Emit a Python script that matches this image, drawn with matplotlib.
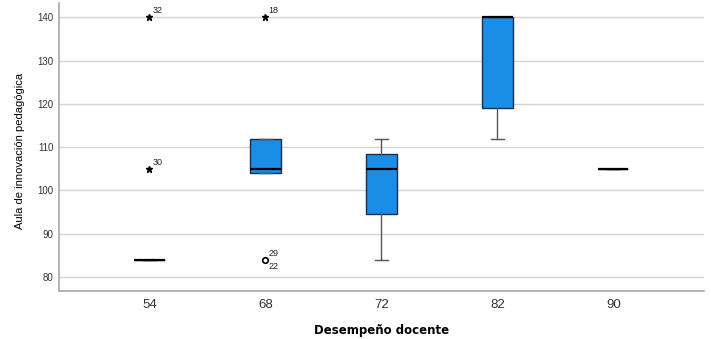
import matplotlib
matplotlib.use('Agg')
import matplotlib.pyplot as plt

plt.rcParams['font.family'] = ['Liberation Sans', 'DejaVu Sans']

# boxplot summary per group
groups = ['54', '68', '72', '82', '90']
whislo = [84, 104, 84, 112, 105]
q1 = [84, 104, 94.5, 119, 105]
med = [84, 105, 105, 140, 105]
q3 = [84, 112, 108.5, 140, 105]
whishi = [84, 112, 112, 140, 105]
# outliers: (group index, value, label, marker)
out_grp = [0, 0, 1, 1]
out_val = [140, 105, 140, 84]
out_lab = ['32', '30', '18', '29']
out_mrk = ['*', '*', '*', 'o']

box_color = '#1a8de6'
edge_color = '#1b2f4a'

fig = plt.figure(figsize=(7.11, 3.39), dpi=100)
ax = fig.add_axes([0.083, 0.142, 0.907, 0.849])

stats = []
for i, g in enumerate(groups):
    stats.append(dict(label=g, whislo=whislo[i], q1=q1[i], med=med[i],
                      q3=q3[i], whishi=whishi[i], fliers=[]))

ax.bxp(stats, positions=range(len(groups)), widths=0.26, patch_artist=True,
       showfliers=False, manage_ticks=False,
       boxprops=dict(facecolor=box_color, edgecolor=edge_color, linewidth=1),
       medianprops=dict(color='black', linewidth=1.6),
       whiskerprops=dict(color='#555555', linewidth=1),
       capprops=dict(color='#555555', linewidth=1),
       capwidths=0.11)

for g, v, lab, m in zip(out_grp, out_val, out_lab, out_mrk):
    if m == '*':
        ax.plot(g, v, marker='*', color='black', markersize=4.5, linestyle='none')
    else:
        ax.plot(g, v, marker='o', markerfacecolor='white', markeredgecolor='black',
                markersize=4, markeredgewidth=1.2, linestyle='none')
    ax.annotate(lab, (g, v), xytext=(2, 3), textcoords='offset points',
                fontsize=6.5, color='#222222')
# second label on the 68 circle outlier
ax.annotate('22', (1, 84), xytext=(2, -7), textcoords='offset points',
            fontsize=6.5, color='#222222')

ax.set_xlim(-0.78, 4.78)
ax.set_ylim(76.8, 143.3)
ax.set_yticks([80, 90, 100, 110, 120, 130, 140])
ax.set_xticks(range(len(groups)))
ax.set_xticklabels(groups, fontsize=9.5, color='#333333')
ax.tick_params(axis='y', labelsize=7, colors='#333333', length=0, pad=4)
ax.tick_params(axis='x', length=0, pad=6)
ax.yaxis.grid(True, color='#d4d4d4', linewidth=1)
ax.set_axisbelow(True)
for s in ['top', 'right']:
    ax.spines[s].set_visible(False)
for s in ['left', 'bottom']:
    ax.spines[s].set_color('#a8a8a8')
    ax.spines[s].set_linewidth(1.2)

ax.set_xlabel('Desempeño docente', fontsize=8.5, fontweight='bold', labelpad=9,
              family=['DejaVu Sans'])
ax.set_ylabel('Aula de innovación pedagógica', fontsize=8, labelpad=10,
              family=['Liberation Sans Narrow', 'Liberation Sans', 'DejaVu Sans'])
ax.yaxis.set_label_coords(-0.052, 0.486)

fig.savefig('out.png', dpi=100)
